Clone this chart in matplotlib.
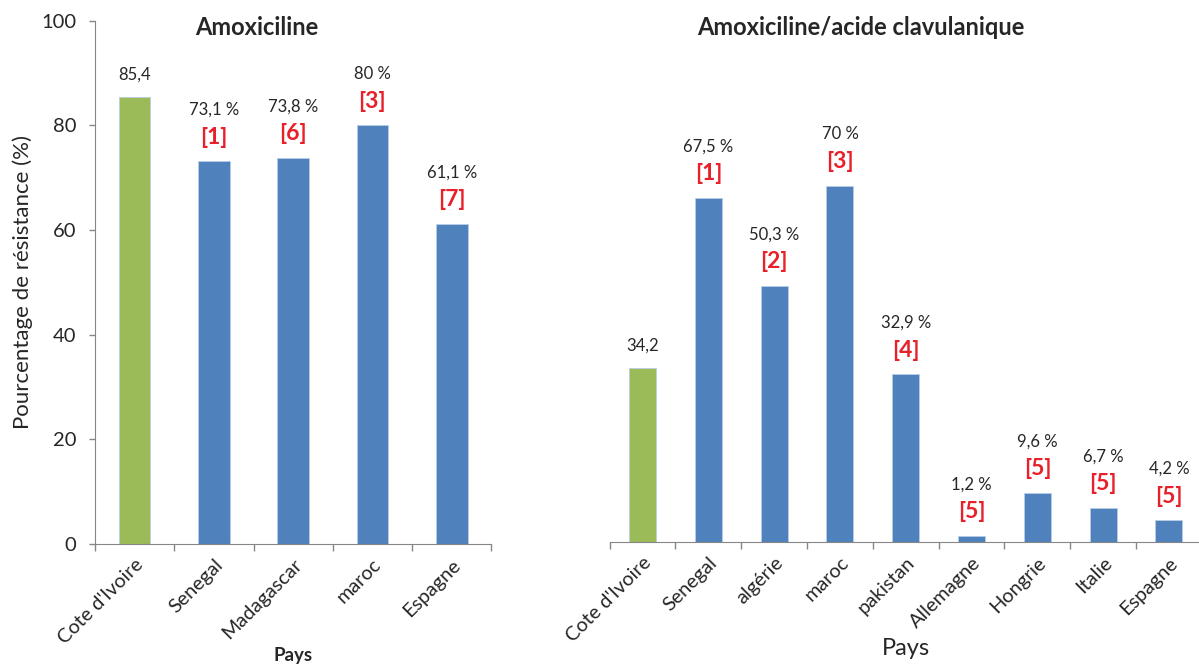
import matplotlib
matplotlib.use("Agg")
import matplotlib.pyplot as plt
import numpy as np

# data
amox_pays = ["Cote d'Ivoire", "Senegal", "Madagascar", "maroc", "Espagne"]
amox_vals = [85.4, 73.1, 73.8, 80, 61.1]
amox_refs = ["", "[1]", "[6]", "[3]", "[7]"]

clav_pays = ["Cote d'Ivoire", "Senegal", "algérie", "maroc", "pakistan",
             "Allemagne", "Hongrie", "Italie", "Espagne"]
clav_vals = [34.2, 67.5, 50.3, 70, 32.9, 1.2, 9.6, 6.7, 4.2]
clav_refs = ["", "[1]", "[2]", "[3]", "[4]", "[5]", "[5]", "[5]", "[5]"]

GREEN = "#9BBB59"
BLUE = "#4F81BD"
RED = "#E8202A"
GRAY = "#868686"
TXT = "#262626"

plt.rcParams['font.family'] = ['Lato', 'DejaVu Sans']


def fmt(v, i):
    s = f"{v:g}".replace('.', ',')
    return s if i == 0 else s + " %"


def draw(ax, pays, vals, refs, width):
    x = np.arange(len(pays))
    colors = [GREEN] + [BLUE] * (len(pays) - 1)
    ax.bar(x, vals, width=width, color=colors, edgecolor="#B9CDE5", linewidth=0.6)
    for i, (v, r) in enumerate(zip(vals, refs)):
        if r:
            ax.annotate(fmt(v, i), (i, v), xytext=(0, 37), textcoords="offset points",
                        ha="center", va="center", fontsize=12, color=TXT)
            ax.annotate(r, (i, v), xytext=(0, 17.5), textcoords="offset points",
                        ha="center", va="center", fontsize=16.5, fontweight="bold", color=RED)
        else:
            ax.annotate(fmt(v, i), (i, v), xytext=(0, 16), textcoords="offset points",
                        ha="center", va="center", fontsize=12, color=TXT)
    ax.set_xlim(-0.5, len(pays) - 0.5)
    ax.set_xticks(x)
    ax.set_xticklabels(pays, rotation=45, ha="right", rotation_mode="anchor",
                       fontsize=14.3, color=TXT)
    ax.set_xticks(np.arange(len(pays) + 1) - 0.5, minor=True)
    ax.tick_params(axis="x", which="major", length=0, pad=9)
    ax.tick_params(axis="x", which="minor", length=5, width=1, color=GRAY, direction="out")
    for s in ["top", "right"]:
        ax.spines[s].set_visible(False)
    ax.spines["bottom"].set_color(GRAY)
    ax.spines["left"].set_color(GRAY)


fig = plt.figure(figsize=(11.99, 6.66), dpi=100)

ax1 = fig.add_axes([0.0792, 0.1836, 0.3306, 0.7853])
draw(ax1, amox_pays, amox_vals, amox_refs, 0.4)
ax1.set_ylim(0, 100)
ax1.set_yticks([0, 20, 40, 60, 80, 100])
ax1.tick_params(axis="y", length=4.5, width=1, color=GRAY, pad=9, labelsize=14.5, labelcolor=TXT)
ax1.set_ylabel("Pourcentage de résistance (%)", fontsize=16, color=TXT)
ax1.yaxis.set_label_coords(-0.157, 0.5)
ax1.set_xlabel("Pays", fontsize=13.5, fontweight="bold", color=TXT)
ax1.xaxis.set_label_coords(0.5, -0.197)

ax2 = fig.add_axes([0.5085, 0.1866, 0.4939, 0.7823])
draw(ax2, clav_pays, clav_vals, clav_refs, 0.41)
ax2.set_ylim(0, 102.4)
ax2.spines["left"].set_visible(False)
ax2.set_yticks([])
ax2.set_xlabel("Pays", fontsize=17, color=TXT)
ax2.xaxis.set_label_coords(0.5, -0.185)

fig.text(0.2143, 0.958, "Amoxiciline", fontsize=17, fontweight="bold",
         ha="center", va="center", color=TXT)
fig.text(0.718, 0.958, "Amoxiciline/acide clavulanique", fontsize=17, fontweight="bold",
         ha="center", va="center", color=TXT)

fig.savefig("out.png", dpi=100)
